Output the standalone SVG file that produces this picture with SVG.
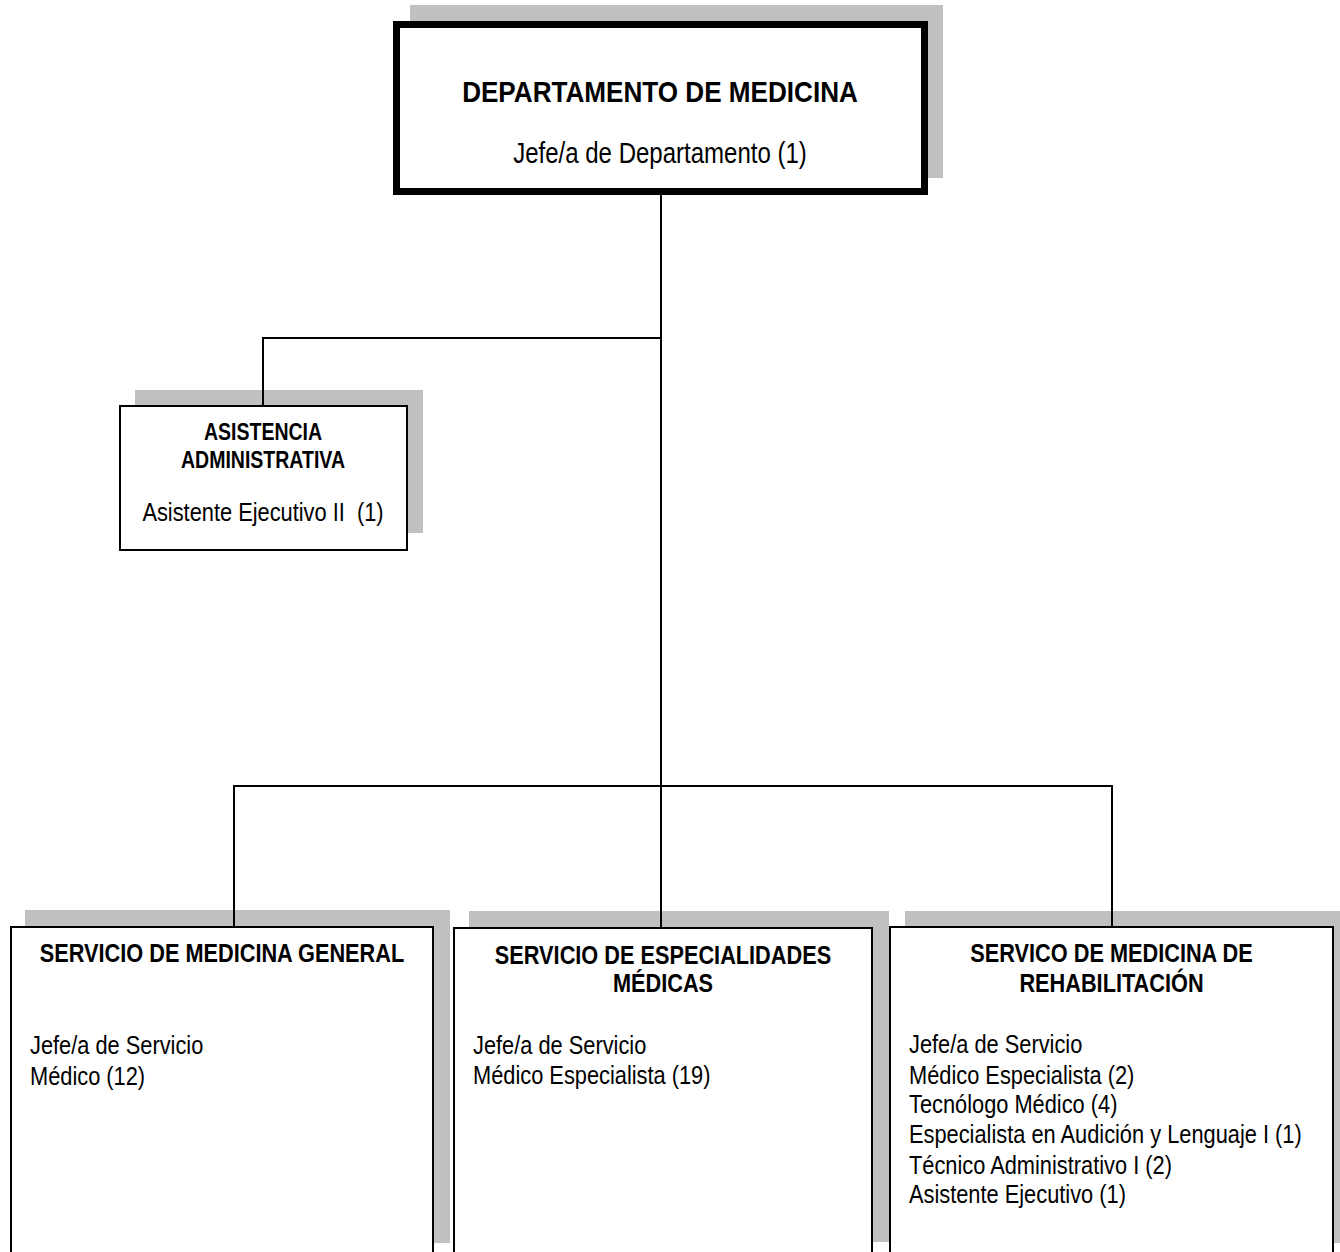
<svg xmlns="http://www.w3.org/2000/svg" width="1340" height="1252" viewBox="0 0 1340 1252">
<style>
.bg{fill:#ffffff}
.sh{fill:#c0c0c0;stroke:none}
.bx{fill:#ffffff;stroke:#000000;stroke-width:2}
.bxt{fill:#ffffff;stroke:#000000;stroke-width:7}
.ln{stroke:#000000;stroke-width:2;fill:none}
text{font-family:"Liberation Sans",Arial,sans-serif;fill:#000000}
.b{font-weight:bold}
.c{text-anchor:middle}
.r{font-size:26.6px}
.t{font-size:26.5px}
.s{font-size:23.8px}
</style>
<rect class="bg" x="0" y="0" width="1340" height="1252"/>

<g id="departamento">
  <rect class="sh" x="410" y="5" width="533" height="173"/>
  <rect class="bxt" x="396.5" y="24.5" width="528" height="167"/>
  <g transform="translate(660,0) scale(0.87,1)">
    <text class="b c" x="0" y="102" style="font-size:30px">DEPARTAMENTO DE MEDICINA</text>
  </g>
  <g transform="translate(660,0) scale(0.82,1)">
    <text class="c" x="0" y="163" style="font-size:29.3px">Jefe/a de Departamento (1)</text>
  </g>
</g>

<g id="asistencia">
  <rect class="sh" x="135" y="390" width="288" height="143"/>
  <rect class="bx" x="120" y="406" width="287" height="144"/>
  <g transform="translate(263,0) scale(0.82,1)">
    <text class="b c s" x="0" y="440">ASISTENCIA</text>
    <text class="b c s" x="0" y="468">ADMINISTRATIVA</text>
    <text class="c r" x="0" y="521" xml:space="preserve">Asistente Ejecutivo II  (1)</text>
  </g>
</g>

<g id="medicina-general">
  <rect class="sh" x="25" y="910" width="425" height="333"/>
  <rect class="bx" x="11" y="927" width="422" height="400"/>
  <g transform="translate(222,0) scale(0.82,1)">
    <text class="b c t" x="0" y="962">SERVICIO DE MEDICINA GENERAL</text>
  </g>
  <g transform="translate(30,0) scale(0.82,1)">
    <text class="r" x="0" y="1054">Jefe/a de Servicio</text>
    <text class="r" x="0" y="1085">Médico (12)</text>
  </g>
</g>

<g id="especialidades">
  <rect class="sh" x="469" y="911" width="420" height="331"/>
  <rect class="bx" x="454" y="928" width="418" height="400"/>
  <g transform="translate(663,0) scale(0.82,1)">
    <text class="b c t" x="0" y="964">SERVICIO DE ESPECIALIDADES</text>
    <text class="b c t" x="0" y="992">MÉDICAS</text>
  </g>
  <g transform="translate(473,0) scale(0.82,1)">
    <text class="r" x="0" y="1054">Jefe/a de Servicio</text>
    <text class="r" x="0" y="1084">Médico Especialista (19)</text>
  </g>
</g>

<g id="rehabilitacion">
  <rect class="sh" x="905" y="911" width="440" height="332"/>
  <rect class="bx" x="890" y="927" width="443" height="400"/>
  <g transform="translate(1111.5,0) scale(0.82,1)">
    <text class="b c t" x="0" y="962">SERVICO DE MEDICINA DE</text>
    <text class="b c t" x="0" y="992">REHABILITACIÓN</text>
  </g>
  <g transform="translate(909,0) scale(0.82,1)">
    <text class="r" x="0" y="1053">Jefe/a de Servicio</text>
    <text class="r" x="0" y="1084">Médico Especialista (2)</text>
    <text class="r" x="0" y="1113">Tecnólogo Médico (4)</text>
    <text class="r" x="0" y="1143">Especialista en Audición y Lenguaje I (1)</text>
    <text class="r" x="0" y="1174">Técnico Administrativo I (2)</text>
    <text class="r" x="0" y="1203">Asistente Ejecutivo (1)</text>
  </g>
</g>

<g id="connectors">
  <path class="ln" d="M661 195 V927"/>
  <path class="ln" d="M263 338 H662"/>
  <path class="ln" d="M263 337 V405"/>
  <path class="ln" d="M233 786 H1113"/>
  <path class="ln" d="M234 785 V926"/>
  <path class="ln" d="M1112 785 V926"/>
</g>
</svg>
